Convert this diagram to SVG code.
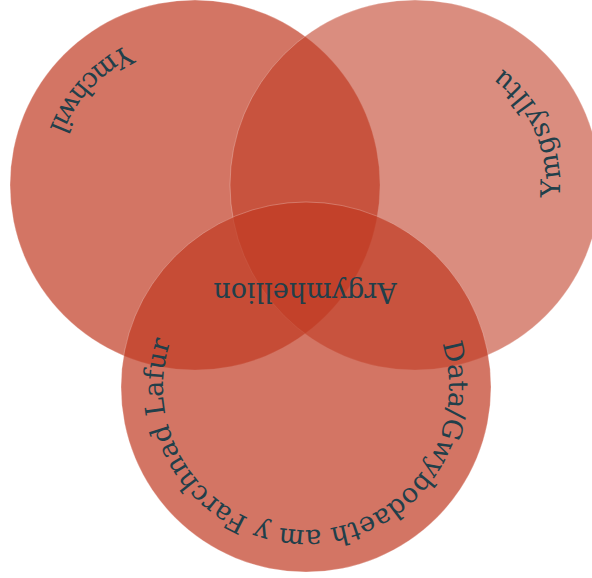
<svg xmlns="http://www.w3.org/2000/svg" width="592" height="578" viewBox="0 0 592 578">
<style>
.c{fill:#c03a22;stroke:#ffffff;stroke-opacity:0.25;stroke-width:1}
.t{font-family:"DejaVu Serif","Liberation Serif",serif;font-size:27px;fill:#213f4a}
</style>
<defs>
<path id="p1" d="M318.9,90.2 A156,156 0 1 0 110.9,316.4"/>
<path id="p2" d="M451.3,325.4 A145,145 0 1 0 332.9,65.5"/>
<path id="p3" d="M378.6,263.8 A143,143 0 1 1 235.6,262.5"/>
</defs>
<g id="circle-ymchwil">
<circle class="c" cx="195" cy="185" r="185" fill-opacity="0.7"/>
</g>
<g id="circle-ymgysylltu">
<circle class="c" cx="415" cy="185" r="185" fill-opacity="0.58"/>
</g>
<g id="circle-data">
<circle class="c" cx="306" cy="387" r="185" fill-opacity="0.7"/>
</g>
<g id="labels">
<text class="t"><textPath href="#p1" startOffset="50%" text-anchor="middle">Ymchwil</textPath></text>
<text class="t" letter-spacing="1.5"><textPath href="#p2" startOffset="50%" text-anchor="middle">Ymgsylltu</textPath></text>
<text class="t"><textPath href="#p3" startOffset="50%" text-anchor="middle">Data/Gwybodaeth am y Farchnad Lafur</textPath></text>
</g>
<g id="center-label">
<text class="t" text-anchor="middle" transform="translate(305,283) rotate(180)">Argymhellion</text>
</g>
</svg>
